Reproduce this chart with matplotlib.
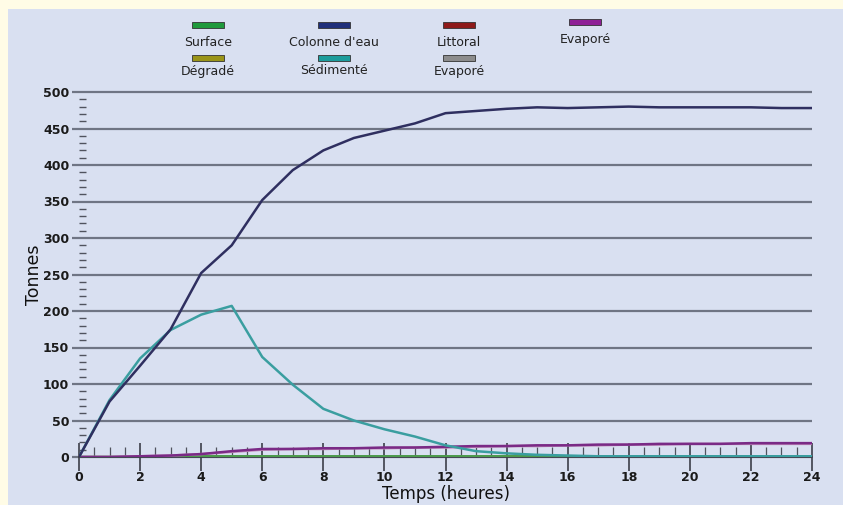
import numpy as np
import matplotlib
matplotlib.use("Agg")
import matplotlib.pyplot as plt
from matplotlib.patches import Rectangle
from matplotlib.ticker import MultipleLocator

# temps en heures
heures = list(range(0, 25))

colonne = [0, 76, 125, 175, 252, 290, 352, 393, 420, 437, 447, 457, 471,
           474, 477, 479, 478, 479, 480, 479, 479, 479, 479, 478, 478]
sedimente = [0, 78, 135, 174, 195, 207, 137, 99, 66, 50, 38, 28, 16,
             8, 5, 3, 2, 1, 1, 1, 1, 1, 1, 1, 1]
evapore = [0, 0, 1, 2, 4, 8, 11, 11, 12, 12, 13, 13, 14,
           15, 15, 16, 16, 17, 17, 18, 18, 18, 19, 19, 19]
evapore_gris = [0, 0, 1, 2, 4, 7, 10, 11, 11, 12, 12, 13, 13,
                14, 15, 15, 16, 16, 17, 17, 18, 18, 18, 18, 18]
surface = [0, 0, 0, 0, 1, 1, 1, 1, 1, 1, 1, 1, 1,
           1, 1, 1, 1, 1, 1, 1, 1, 1, 1, 1, 1]
degrade = [0] * 25
littoral = [0] * 25

leg_labels = ["Surface", "Colonne d'eau", "Littoral", "Evaporé",
              "Dégradé", "Sédimenté", "Evaporé"]
leg_colors = ["#1f9a3c", "#1f2f7a", "#8e1a1a", "#8e2096",
              "#9a9418", "#1c9c9c", "#8c8c8c"]

bg = "#fffce6"
panel = "#d9e0f1"
grid_c = "#6f7584"

fig = plt.figure(figsize=(8.43, 5.05), dpi=100, facecolor=bg)
fig.patches.append(Rectangle((8 / 843, 0), 1, 1 - 9 / 505, transform=fig.transFigure,
                             facecolor=panel, edgecolor="none", zorder=-10))

ax = fig.add_axes([79 / 843, 1 - 457 / 505, (812 - 79) / 843, (457 - 92) / 505])
ax.set_facecolor("none")
ax.set_xlim(0, 24)
ax.set_ylim(0, 500)

# lignes horizontales
for v in range(0, 501, 50):
    ax.plot([-0.23, 24], [v, v], color=grid_c, lw=1.6, clip_on=False, zorder=1,
            solid_capstyle="butt")

ax.plot(heures, degrade, color="#9a9418", lw=1.5, zorder=2)
ax.plot(heures, littoral, color="#8e1a1a", lw=1.2, zorder=2)
ax.plot(heures, surface, color="#4c9a4c", lw=1.8, zorder=3)
ax.plot(heures, evapore_gris, color="#c08ab8", lw=1.8, zorder=3)
ax.plot(heures, evapore, color="#7a2a86", lw=1.8, zorder=4)
ax.plot(heures, sedimente, color="#3a9ea0", lw=1.8, zorder=5)
ax.plot(heures, colonne, color="#2f2f60", lw=1.8, zorder=6)

for s in ["top", "right", "left"]:
    ax.spines[s].set_visible(False)
ax.spines["bottom"].set_color("#3c3f4a")
ax.spines["bottom"].set_linewidth(1.2)

ax.xaxis.set_major_locator(MultipleLocator(2))
ax.xaxis.set_minor_locator(MultipleLocator(0.5))
ax.yaxis.set_major_locator(MultipleLocator(50))
ax.yaxis.set_minor_locator(MultipleLocator(10))
ax.tick_params(axis="x", which="major", direction="inout", length=20, width=1.2,
               color="#3c3f4a", labelsize=9, pad=0)
ax.tick_params(axis="x", which="minor", direction="in", length=7, width=0.9,
               color="#50535e")
ax.tick_params(axis="y", which="major", length=0, labelsize=9, pad=7)
ax.tick_params(axis="y", which="minor", direction="in", length=5, width=1.0,
               color="#50535e")
for lab in ax.get_xticklabels() + ax.get_yticklabels():
    lab.set_fontweight("bold")
    lab.set_color("#1a1a1a")

ax.set_xlabel("Temps (heures)", fontsize=12, labelpad=1, color="#111111")
ax.set_ylabel("Tonnes", fontsize=12.5, labelpad=0, color="#111111")

# légende faite à la main
leg_pos = [(208, 22, 42), (334, 22, 42), (459, 22, 42), (585, 19, 39),
           (208, 55, 71), (334, 55, 71), (459, 55, 71)]
for lab, col, (cx, by, ty) in zip(leg_labels, leg_colors, leg_pos):
    fig.patches.append(Rectangle(((cx - 16) / 843, 1 - (by + 6) / 505), 32 / 843, 6 / 505,
                                 transform=fig.transFigure, facecolor=col,
                                 edgecolor="#333333", lw=0.6, zorder=3))
    fig.text(cx / 843, 1 - ty / 505, lab, ha="center", va="center", fontsize=9,
             color="#222222")

fig.savefig("out.png", dpi=100, facecolor=bg)
